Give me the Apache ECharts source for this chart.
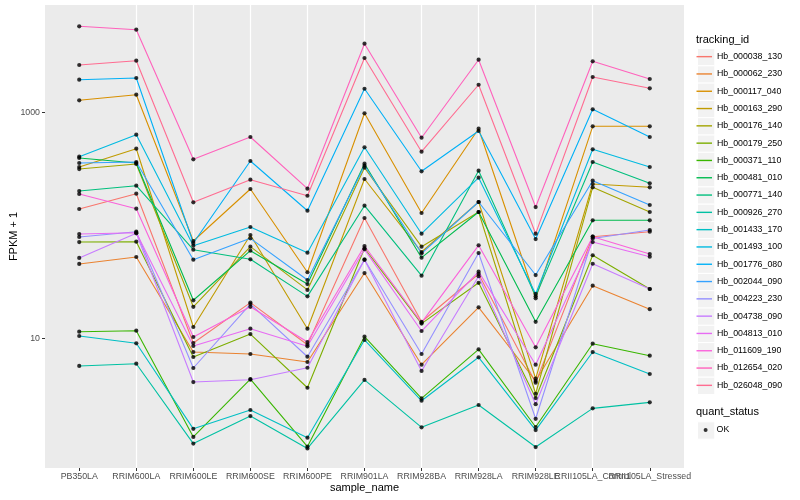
<!DOCTYPE html>
<html><head><meta charset="utf-8">
<script src="https://cdn.jsdelivr.net/npm/echarts@6/dist/echarts.min.js"></script>
<style>html,body{margin:0;padding:0;background:#fff}#c{width:800px;height:500px}</style>
</head><body><div id="c"></div>
<script>
const categories = ['PB350LA','RRIM600LA','RRIM600LE','RRIM600SE','RRIM600PE','RRIM901LA','RRIM928BA','RRIM928LA','RRIM928LE','RRII105LA_Control','RRII105LA_Stressed'];
const trackingIds = ['Hb_000038_130','Hb_000062_230','Hb_000117_040','Hb_000163_290','Hb_000176_140','Hb_000179_250','Hb_000371_110','Hb_000481_010','Hb_000771_140','Hb_000926_270','Hb_001433_170','Hb_001493_100','Hb_001776_080','Hb_002044_090','Hb_004223_230','Hb_004738_090','Hb_004813_010','Hb_011609_190','Hb_012654_020','Hb_026048_090'];
const yTickLabels = [10, 1000];
const quantStatus = ['OK'];

// FPKM + 1 values, one array per tracking_id, in category order
const Hb_000038_130 = [139.4, 190.4, 9.09, 20.7, 8.78, 116.0, 14.0, 37.1, 4.05, 79.3, 87.8];
const Hb_000062_230 = [45.5, 52.4, 7.56, 7.26, 6.17, 37.8, 5.84, 18.8, 4.19, 29.2, 18.1];
const Hb_000117_040 = [1277, 1431, 72.6, 209.5, 38.4, 980, 128.5, 716, 22.6, 751.7, 751.7];
const Hb_000163_290 = [328.1, 476.3, 12.59, 82.1, 12.16, 256.8, 58.0, 160.8, 4.39, 232.0, 216.9];
const Hb_000176_140 = [314.8, 348.7, 19.0, 64.7, 26.8, 323.4, 64.7, 131.1, 3.23, 216.9, 131.1];
const Hb_000179_250 = [71.1, 71.6, 6.83, 10.9, 3.65, 62.6, 13.5, 31.0, 2.96, 54.3, 27.3];
const Hb_000371_110 = [11.44, 11.68, 1.34, 4.36, 1.10, 10.33, 2.94, 7.99, 1.64, 8.96, 7.02];
const Hb_000481_010 = [394.1, 355.8, 21.7, 59.6, 30.2, 350.8, 51.7, 131.1, 14.0, 110.7, 110.7];
const Hb_000771_140 = [201.2, 224.1, 60.8, 50.0, 23.5, 149.1, 35.8, 304.2, 23.5, 363.2, 235.3];
const Hb_000926_270 = [5.69, 5.96, 1.17, 2.05, 1.06, 4.28, 1.63, 2.57, 1.09, 2.40, 2.71];
const Hb_001433_170 = [10.48, 9.03, 1.58, 2.32, 1.32, 9.66, 2.80, 6.79, 1.54, 7.56, 4.83];
const Hb_001493_100 = [404.7, 633.6, 66.0, 96.6, 57.2, 490, 84.3, 263.7, 24.7, 470.5, 328.1];
const Hb_001776_080 = [1943, 2012, 69.7, 370.7, 134.6, 1617, 300.5, 683, 75.6, 1063, 604.5];
const Hb_002044_090 = [355.8, 363.2, 49.6, 76.7, 32.8, 336.9, 56.5, 160.8, 36.3, 248.1, 151.2];
const Hb_004223_230 = [78.8, 87.8, 5.46, 20.1, 6.87, 49.6, 7.26, 56.9, 1.94, 76.4, 90.9];
const Hb_004738_090 = [51.4, 85.0, 4.10, 4.30, 5.49, 49.6, 5.14, 35.4, 2.61, 45.7, 27.3];
const Hb_004813_010 = [83.7, 86.0, 8.55, 12.16, 8.50, 61.3, 11.6, 38.9, 5.84, 71.1, 52.7];
const Hb_011609_190 = [189.2, 140.3, 10.27, 19.0, 9.27, 65.6, 13.75, 66.5, 8.32, 79.3, 55.7];
const Hb_012654_020 = [5769, 5383, 383.8, 604.5, 210.8, 4047, 595.9, 2921, 145.1, 2827, 1971];
const Hb_026048_090 = [2621, 2862, 159.8, 253.2, 182.7, 3023, 447.9, 1754, 84.3, 2053, 1631];

const seriesValues = [Hb_000038_130, Hb_000062_230, Hb_000117_040, Hb_000163_290, Hb_000176_140, Hb_000179_250, Hb_000371_110, Hb_000481_010, Hb_000771_140, Hb_000926_270, Hb_001433_170, Hb_001493_100, Hb_001776_080, Hb_002044_090, Hb_004223_230, Hb_004738_090, Hb_004813_010, Hb_011609_190, Hb_012654_020, Hb_026048_090];

const palette = ['#F8766D','#EA8331','#D89000','#C09B00','#A3A500','#7CAE00','#39B600','#00BB4E','#00BF7D','#00C1A3','#00BFC4','#00BAE0','#00B0F6','#35A2FF','#9590FF','#C77CFF','#E76BF3','#FA62DB','#FF62BC','#FF6C91'];

const FONT = "'Liberation Sans', Arial, sans-serif";
const chart = echarts.init(document.getElementById('c'), null, {renderer: 'canvas'});

const lineSeries = trackingIds.map((id, k) => ({
  name: id, type: 'line', showSymbol: false, symbol: 'none',
  data: seriesValues[k].map((v, i) => [i, v]),
  lineStyle: {width: 1.1, color: palette[k]}, itemStyle: {color: palette[k]},
  z: 2, silent: true
}));
const points = [];
seriesValues.forEach(arr => arr.forEach((v, i) => points.push([i, v])));
const pointSeries = {
  name: quantStatus[0], type: 'scatter', data: points, symbol: 'circle', symbolSize: 4.2,
  itemStyle: {color: '#000'}, z: 3, silent: true
};

const keyX = 697, keyW = 17.3, key0 = 48, keyStep = 17.3, okTop = 421.35;
const keyRects = trackingIds.map((id, i) => ({
  type: 'rect', left: keyX, top: key0 + i * keyStep, z: 0,
  shape: {width: keyW, height: keyStep}, style: {fill: '#F2F2F2', stroke: '#fff', lineWidth: 1}
}));
keyRects.push({type: 'rect', left: keyX, top: okTop, z: 0,
  shape: {width: keyW, height: keyStep}, style: {fill: '#F2F2F2', stroke: '#fff', lineWidth: 1}});

// the label of category 9 goes on a companion axis so that the overlapping last two labels both show
const mainLabelIdx = categories.map((c, i) => i).filter(i => i !== 9);
const sideLabelIdx = [9];
const catFormatter = v => { const r = Math.round(v); return Math.abs(v - r) < 1e-6 && categories[r] ? categories[r] : ''; };
const labelStyle = {fontSize: 8.8, color: '#4D4D4D', margin: 4, fontFamily: FONT, hideOverlap: false};

chart.setOption({
  animation: false,
  backgroundColor: '#fff',
  textStyle: {fontFamily: FONT},
  title: [
    {text: 'tracking_id', left: 696, top: 34, padding: 0, textStyle: {fontSize: 11, fontWeight: 'normal', color: '#000', fontFamily: FONT}},
    {text: 'quant_status', left: 696, top: 406, padding: 0, textStyle: {fontSize: 11, fontWeight: 'normal', color: '#000', fontFamily: FONT}}
  ],
  grid: {left: 45, right: 116, top: 5, bottom: 32, show: true, backgroundColor: '#EBEBEB', borderWidth: 0, containLabel: false, outerBoundsMode: 'none'},
  xAxis: [{
    type: 'value', min: -0.6, max: 10.6, splitNumber: 11, minInterval: 1, maxInterval: 1,
    name: 'sample_name', nameLocation: 'middle', nameGap: 14, nameMoveOverlap: false,
    nameTextStyle: {fontSize: 11, color: '#000', fontFamily: FONT},
    axisLine: {show: false, onZero: false},
    axisTick: {show: true, length: 3, lineStyle: {color: '#333', width: 1}, customValues: categories.map((c, i) => i)},
    axisLabel: Object.assign({showMinLabel: true, showMaxLabel: true, customValues: mainLabelIdx, formatter: catFormatter}, labelStyle),
    splitLine: {show: true, showMinLine: false, showMaxLine: false, lineStyle: {color: '#FFFFFF', width: 1.2}}
  }, {
    type: 'value', min: -0.6, max: 10.6, position: 'bottom', offset: 0,
    axisLine: {show: false, onZero: false}, axisTick: {show: false}, splitLine: {show: false},
    axisLabel: Object.assign({customValues: sideLabelIdx, formatter: catFormatter}, labelStyle)
  }],
  yAxis: {
    type: 'log', logBase: 10, min: 0.7115, max: 8906,
    name: 'FPKM + 1', nameLocation: 'middle', nameGap: 26, nameRotate: 90, nameMoveOverlap: false,
    nameTextStyle: {fontSize: 11, color: '#000', fontFamily: FONT},
    axisLine: {show: false, onZero: false},
    axisTick: {show: true, length: 3, lineStyle: {color: '#333', width: 1}, customValues: yTickLabels},
    axisLabel: {fontSize: 8.8, color: '#4D4D4D', margin: 5, fontFamily: FONT, customValues: yTickLabels,
      formatter: v => { const r = Math.round(v); return yTickLabels.indexOf(r) >= 0 && Math.abs(v - r) < 1e-6 * r ? String(r) : ''; }},
    splitLine: {show: true, showMinLine: false, showMaxLine: false, lineStyle: {color: ['#F8F8F8', '#FFFFFF'], width: 1.2}}
  },
  legend: [
    {data: trackingIds, orient: 'vertical', left: 696.5, top: key0, padding: 0, itemGap: 0,
     itemWidth: 15.5, itemHeight: 1.4, icon: 'rect', selectedMode: false, z: 5,
     textStyle: {fontSize: 8.8, lineHeight: keyStep, color: '#000', fontFamily: FONT}},
    {data: quantStatus, orient: 'vertical', left: 703.6, top: okTop, padding: 0, itemGap: 0,
     itemWidth: 4, itemHeight: 4, icon: 'circle', selectedMode: false, z: 5,
     textStyle: {fontSize: 8.8, lineHeight: keyStep, color: '#000', fontFamily: FONT, padding: [0, 0, 0, 4]}}
  ],
  graphic: keyRects,
  series: lineSeries.concat([pointSeries])
});
</script></body></html>
